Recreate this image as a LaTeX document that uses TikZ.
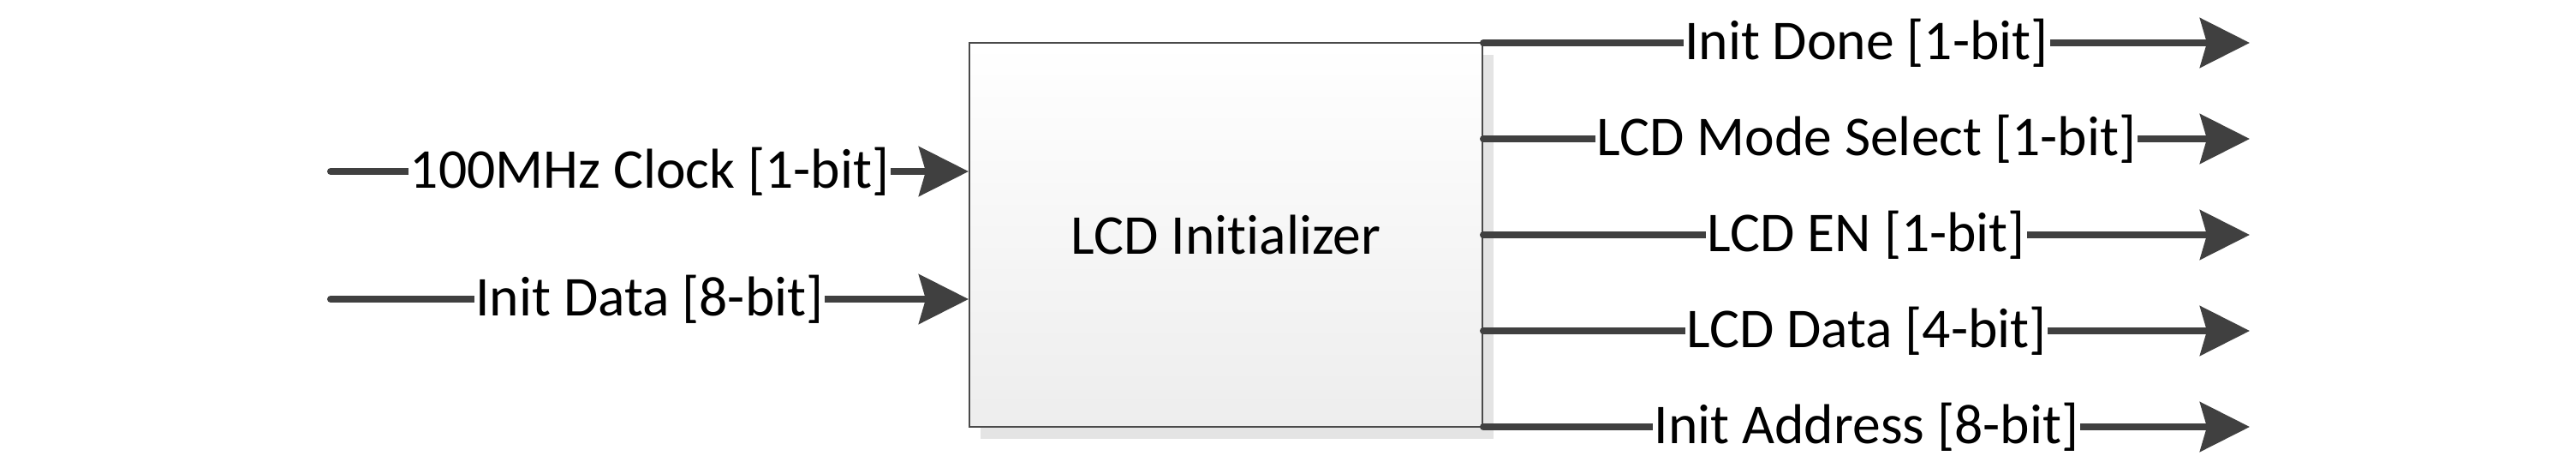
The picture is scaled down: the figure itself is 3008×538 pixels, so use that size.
\documentclass[tikz,border=0pt]{standalone}
\usepackage{fontspec}
\setmainfont{Carlito}[Ligatures=CommonOff]
\usetikzlibrary{arrows.meta,shadows}
\definecolor{wire}{HTML}{404040}
\definecolor{edge}{HTML}{4A4A4A}
\definecolor{shade}{HTML}{E4E4E4}
\tikzset{
  x=0.25pt, y=-0.25pt,
  every node/.style={font=\fontsize{16.4pt}{19.7pt}\selectfont},
  block/.style={draw=edge, line width=0.5pt, top color=white, bottom color=black!7,
    minimum width=149.75pt, minimum height=112pt, inner sep=0pt,
    drop shadow={shadow xshift=3.2pt, shadow yshift=-3.4pt, fill=shade, opacity=1}},
  signal/.style={draw=wire, line width=2pt, line cap=round,
    -{Stealth[length=14.5pt, width=14.4pt, inset=2pt]}},
  lbl/.style={fill=white, inner xsep=0.4pt, inner ysep=1pt, text=black}
}
\begin{document}
\begin{tikzpicture}
\useasboundingbox (0,0) rectangle (3008,538);
\node[block] (box) at (1431.5,274) {LCD Initializer};
% inputs
\coordinate (i1) at (386,200);
\coordinate (i2) at (386,349);
\draw[signal] (i1) -- node[lbl]{100MHz Clock [1-bit]} (box.west |- i1);
\draw[signal] (i2) -- node[lbl]{Init Data [8-bit]} (box.west |- i2);
% outputs
\coordinate (o1) at (2627,50);
\coordinate (o2) at (2627,162);
\coordinate (o3) at (2627,274);
\coordinate (o4) at (2627,386);
\coordinate (o5) at (2627,498);
\draw[signal] (box.east |- o1) -- node[lbl]{Init Done [1-bit]} (o1);
\draw[signal] (box.east |- o2) -- node[lbl]{LCD Mode Select [1-bit]} (o2);
\draw[signal] (box.east |- o3) -- node[lbl]{LCD EN [1-bit]} (o3);
\draw[signal] (box.east |- o4) -- node[lbl]{LCD Data [4-bit]} (o4);
\draw[signal] (box.east |- o5) -- node[lbl]{Init Address [8-bit]} (o5);
\end{tikzpicture}
\end{document}
